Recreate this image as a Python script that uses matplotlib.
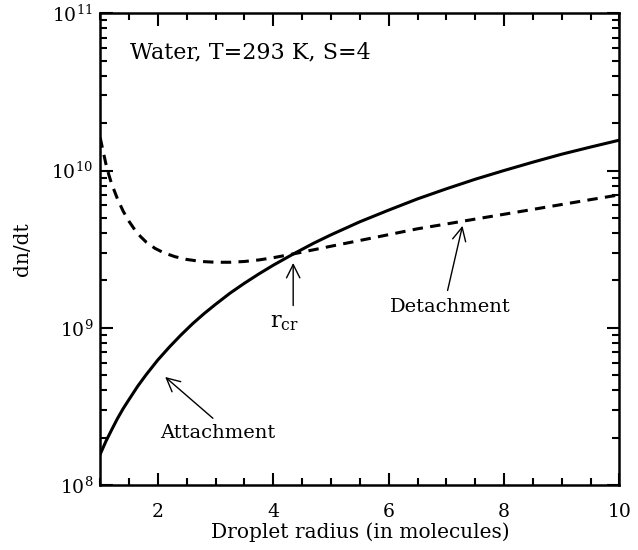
import numpy as np
import matplotlib
matplotlib.use("Agg")
import matplotlib.pyplot as plt
from matplotlib.ticker import MultipleLocator, LogLocator, NullFormatter

plt.rcParams['font.family'] = ['DejaVu Serif']
plt.rcParams['mathtext.fontset'] = 'dejavuserif'

# values
radius_att = [1.0, 1.1, 1.2, 1.3, 1.4, 1.5, 1.65, 1.8, 2.0, 2.2, 2.4, 2.6, 2.8, 3.0,
              3.25, 3.5, 3.75, 4.0, 4.35, 4.7, 5.0, 5.5, 6.0, 6.5, 7.0, 7.5, 8.0,
              8.5, 9.0, 9.5, 10.0]
attachment = [1.57e8, 1.9e8, 2.25e8, 2.65e8, 3.07e8, 3.5e8, 4.25e8, 5.05e8, 6.25e8,
              7.55e8, 9.0e8, 1.06e9, 1.23e9, 1.41e9, 1.66e9, 1.92e9, 2.2e9, 2.5e9,
              2.95e9, 3.45e9, 3.9e9, 4.72e9, 5.6e9, 6.6e9, 7.65e9, 8.8e9, 1.0e10,
              1.13e10, 1.27e10, 1.41e10, 1.56e10]

radius_det = [1.0, 1.05, 1.1, 1.15, 1.2, 1.3, 1.4, 1.5, 1.6, 1.7, 1.8, 1.95, 2.1, 2.3,
              2.5, 2.75, 3.0, 3.25, 3.5, 3.75, 4.0, 4.35, 5.0, 5.5, 6.0, 6.5, 7.0,
              7.5, 8.0, 8.5, 9.0, 9.5, 10.0]
detachment = [1.62e10, 1.33e10, 1.1e10, 9.4e9, 8.2e9, 6.6e9, 5.5e9, 4.75e9, 4.2e9,
              3.8e9, 3.5e9, 3.2e9, 3.0e9, 2.83e9, 2.72e9, 2.64e9, 2.61e9, 2.61e9,
              2.64e9, 2.7e9, 2.79e9, 2.95e9, 3.3e9, 3.59e9, 3.91e9, 4.26e9, 4.57e9,
              4.91e9, 5.27e9, 5.66e9, 6.08e9, 6.53e9, 7.0e9]

fig = plt.figure(figsize=(6.38, 5.5), dpi=100)
ax = fig.add_axes([0.157, 0.118, 0.814, 0.858])

ax.plot(radius_att, attachment, color='black', lw=2.2)
ax.plot(radius_det, detachment, color='black', lw=2.2, ls=(0, (3.4, 2.4)))

ax.set_yscale('log')
ax.set_xlim(1, 10)
ax.set_ylim(1e8, 1e11)

ax.xaxis.set_major_locator(MultipleLocator(2))
ax.xaxis.set_minor_locator(MultipleLocator(0.5))
ax.yaxis.set_minor_locator(LogLocator(base=10, subs=np.arange(2, 10)))
ax.yaxis.set_minor_formatter(NullFormatter())
ax.set_yticks([1e8, 1e9, 1e10, 1e11])
ax.set_yticklabels([r'$\mathregular{10^{8}}$', r'$\mathregular{10^{9}}$',
                    r'$\mathregular{10^{10}}$', r'$\mathregular{10^{11}}$'])

ax.tick_params(which='both', direction='in', top=True, right=True, width=1.5,
               labelsize=13.5)
ax.tick_params(axis='x', pad=13)
ax.tick_params(axis='y', pad=5)
ax.tick_params(which='major', length=9)
ax.tick_params(which='minor', length=5)
for s in ax.spines.values():
    s.set_linewidth(1.8)

ax.set_xlabel('Droplet radius (in molecules)', fontsize=14.5, labelpad=1)
ax.set_ylabel('dn/dt', fontsize=14.5, labelpad=14)

ax.text(0.058, 0.917, 'Water, T=293 K, S=4', transform=ax.transAxes,
        fontsize=16, va='center', ha='left')

arrow = dict(arrowstyle='->', color='black', lw=1.0, mutation_scale=24)

ax.annotate('', xy=(2.09, 5.0e8), xytext=(2.99, 2.59e8), arrowprops=arrow)
ax.text(3.03, 2.14e8, 'Attachment', fontsize=14, ha='center', va='center')

ax.annotate('', xy=(4.345, 2.69e9), xytext=(4.345, 1.33e9), arrowprops=arrow)
ax.text(4.2, 1.09e9, r'$\mathregular{r_{cr}}$', fontsize=16, ha='center', va='center')

ax.annotate('', xy=(7.29, 4.63e9), xytext=(7.01, 1.66e9), arrowprops=arrow)
ax.text(7.07, 1.35e9, 'Detachment', fontsize=14, ha='center', va='center')

fig.savefig('out.png', dpi=100)
